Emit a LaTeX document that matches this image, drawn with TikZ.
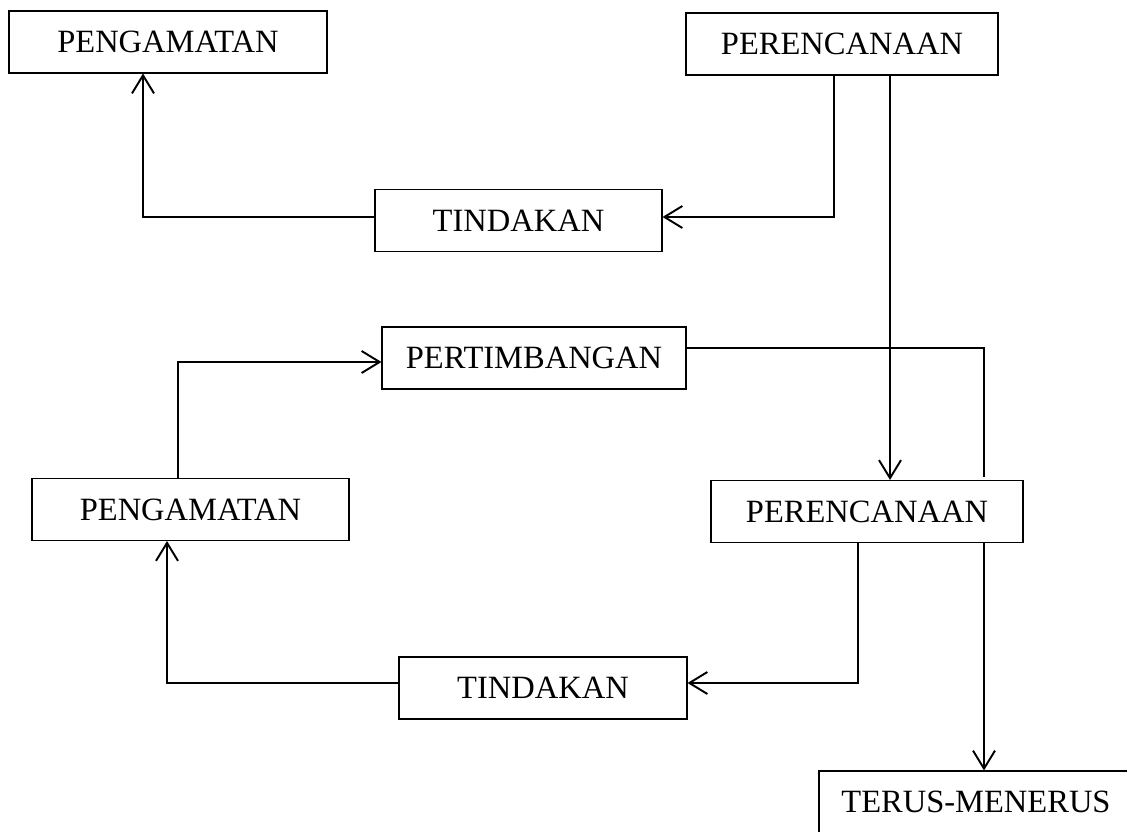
\documentclass[tikz,border=0pt]{standalone}
\usepackage{fontspec}
\setmainfont{Liberation Serif}
\usetikzlibrary{arrows.meta}

\begin{document}
\begin{tikzpicture}[
    box/.style={draw, line width=0.6pt, minimum height=1.24cm, font=\fontsize{18.5}{22}\selectfont},
    link/.style={line width=1.1pt, -{Straight Barb[length=3.6mm,width=4.4mm]}},
    plain/.style={line width=0.6pt}
  ]
  \clip (0,0) rectangle (22.54,-16.64);

  \node[box, minimum width=6.36cm] (obs1) at (3.36,-0.84) {PENGAMATAN};
  \node[box, minimum width=6.24cm] (plan1) at (16.84,-0.88) {PERENCANAAN};
  \node[box, minimum width=5.74cm] (act1) at (10.37,-4.41) {TINDAKAN};
  \node[box, minimum width=6.08cm] (judge) at (10.68,-7.16) {PERTIMBANGAN};
  \node[box, minimum width=6.34cm] (obs2) at (3.81,-10.19) {PENGAMATAN};
  \node[box, minimum width=6.24cm] (plan2) at (17.34,-10.23) {PERENCANAAN};
  \node[box, minimum width=5.76cm] (act2) at (10.86,-13.76) {TINDAKAN};
  \node[box, minimum width=6.28cm] (cont) at (19.52,-16.04) {TERUS-MENERUS};

  % siklus pertama
  \draw[link] ([yshift=0.07cm]act1.west) -| ([xshift=-0.5cm]obs1.south);
  \draw[link] ([xshift=-0.16cm]plan1.south) |- ([yshift=0.07cm]act1.east);
  \draw[link] ([xshift=0.96cm]plan1.south) -- ([xshift=0.96cm]plan1.south |- plan2.north);

  % siklus kedua
  \draw[plain] ([yshift=0.2cm]judge.east) -| ([xshift=2.34cm,yshift=0.05cm]plan2.north);
  \draw[link] ([xshift=-0.25cm]obs2.north) |- ([yshift=-0.08cm]judge.west);
  \draw[link] ([xshift=-0.18cm]plan2.south) |- ([yshift=0.1cm]act2.east);
  \draw[link] ([yshift=0.1cm]act2.west) -| ([xshift=-0.47cm]obs2.south);
  \draw[link] ([xshift=2.34cm]plan2.south) -- ([xshift=2.34cm]plan2.south |- cont.north);
\end{tikzpicture}
\end{document}
